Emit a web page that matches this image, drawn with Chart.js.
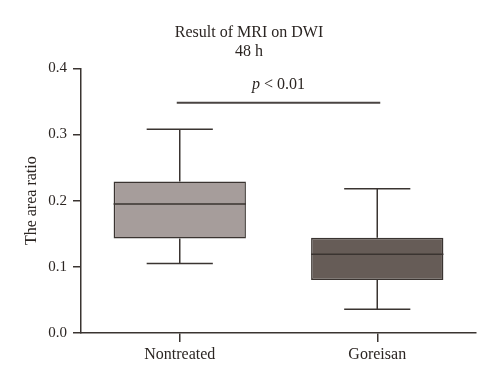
<!DOCTYPE html>
<html>
<head>
<meta charset="utf-8">
<script src="https://cdn.jsdelivr.net/npm/chart.js@4.4.0/dist/chart.umd.min.js"></script>
<style>
  html, body { margin: 0; padding: 0; background: #fff; }
  #wrap { width: 500px; height: 384px; }
</style>
</head>
<body>
<div id="wrap"><canvas id="chart" width="500" height="384"></canvas></div>
<script>
const categories = ['Nontreated', 'Goreisan'];
const whiskerMin = [0.105, 0.036];
const q1 = [0.143, 0.080];
const median = [0.195, 0.119];
const q3 = [0.229, 0.144];
const whiskerMax = [0.308, 0.218];
const boxColors = ['#a69d9b', '#665c57'];
const sigLevel = 0.348;
const sigText = '< 0.01';
const yTicks = [0, 0.1, 0.2, 0.3, 0.4];

const INK = '#3a3431';
const TEXT = '#2b2522';
const SERIF = '"Liberation Serif", "DejaVu Serif", serif';

// whiskers, medians and the p-value bracket, drawn through the chart scales
const boxExtras = {
    id: 'boxExtras',
    afterDatasetsDraw(chart) {
        const ctx = chart.ctx;
        const y = chart.scales.y;
        const meta = chart.getDatasetMeta(0);
        ctx.save();
        ctx.strokeStyle = INK;
        ctx.lineWidth = 1.5;
        meta.data.forEach((bar, i) => {
            const half = bar.width / 2;
            const cap = bar.width / 4;
            ctx.beginPath();
            ctx.moveTo(bar.x, y.getPixelForValue(q3[i]));
            ctx.lineTo(bar.x, y.getPixelForValue(whiskerMax[i]));
            ctx.moveTo(bar.x - cap, y.getPixelForValue(whiskerMax[i]));
            ctx.lineTo(bar.x + cap, y.getPixelForValue(whiskerMax[i]));
            ctx.moveTo(bar.x, y.getPixelForValue(q1[i]));
            ctx.lineTo(bar.x, y.getPixelForValue(whiskerMin[i]));
            ctx.moveTo(bar.x - cap, y.getPixelForValue(whiskerMin[i]));
            ctx.lineTo(bar.x + cap, y.getPixelForValue(whiskerMin[i]));
            ctx.moveTo(bar.x - half, y.getPixelForValue(median[i]));
            ctx.lineTo(bar.x + half, y.getPixelForValue(median[i]));
            ctx.stroke();
        });

        // significance bracket
        const x0 = chart.scales.x.getPixelForValue(0);
        const x1 = chart.scales.x.getPixelForValue(1);
        const ys = y.getPixelForValue(sigLevel);
        ctx.strokeStyle = '#4a4442';
        ctx.lineWidth = 2;
        ctx.beginPath();
        ctx.moveTo(x0 - 3, ys);
        ctx.lineTo(x1 + 3, ys);
        ctx.stroke();

        ctx.fillStyle = TEXT;
        ctx.textBaseline = 'middle';
        const italic = 'italic 16px ' + SERIF;
        const normal = '16px ' + SERIF;
        ctx.font = italic;
        const wp = ctx.measureText('p ').width;
        ctx.font = normal;
        const wt = ctx.measureText(sigText).width;
        const cx = (x0 + x1) / 2;
        const startX = cx - (wp + wt) / 2;
        ctx.textAlign = 'left';
        ctx.font = italic;
        ctx.fillText('p', startX, ys - 18);
        ctx.font = normal;
        ctx.fillText(sigText, startX + wp, ys - 18);
        ctx.restore();
    }
};

new Chart(document.getElementById('chart'), {
    type: 'bar',
    data: {
        labels: categories,
        datasets: [{
            data: categories.map((c, i) => [q1[i], q3[i]]),
            backgroundColor: boxColors,
            borderColor: INK,
            borderWidth: 1.5,
            borderSkipped: false,
            categoryPercentage: 1,
            barPercentage: 0.67
        }]
    },
    options: {
        responsive: false,
        animation: false,
        layout: { padding: { left: 22, right: 24, top: 0, bottom: 0 } },
        plugins: {
            legend: { display: false },
            tooltip: { enabled: false },
            title: {
                display: true,
                text: ['Result of MRI on DWI', '48 h'],
                color: TEXT,
                font: { family: SERIF, size: 16, weight: 'normal', lineHeight: 1.2 },
                padding: { top: 23, bottom: 7 }
            }
        },
        scales: {
            x: {
                grid: { display: true, offset: false, drawOnChartArea: false, drawTicks: true, tickLength: 9, color: INK, lineWidth: 1.5 },
                border: { display: true, color: INK, width: 1.5 },
                ticks: { color: TEXT, font: { family: SERIF, size: 16 }, padding: 3 },
                afterFit(scale) { scale.height = 51; }
            },
            y: {
                min: 0,
                max: 0.4,
                afterBuildTicks(scale) { scale.ticks = yTicks.map(v => ({ value: v })); },
                grid: { display: true, drawOnChartArea: false, drawTicks: true, tickLength: 8, color: INK, lineWidth: 1.5 },
                border: { display: true, color: INK, width: 1.5 },
                ticks: {
                    color: TEXT,
                    font: { family: SERIF, size: 15 },
                    padding: 6,
                    callback: v => Number(v).toFixed(1)
                },
                title: {
                    display: true,
                    text: 'The area ratio',
                    color: TEXT,
                    font: { family: SERIF, size: 16 },
                    padding: 0
                },
                afterFit(scale) { scale.width = 59; }
            }
        }
    },
    plugins: [boxExtras]
});
</script>
</body>
</html>
